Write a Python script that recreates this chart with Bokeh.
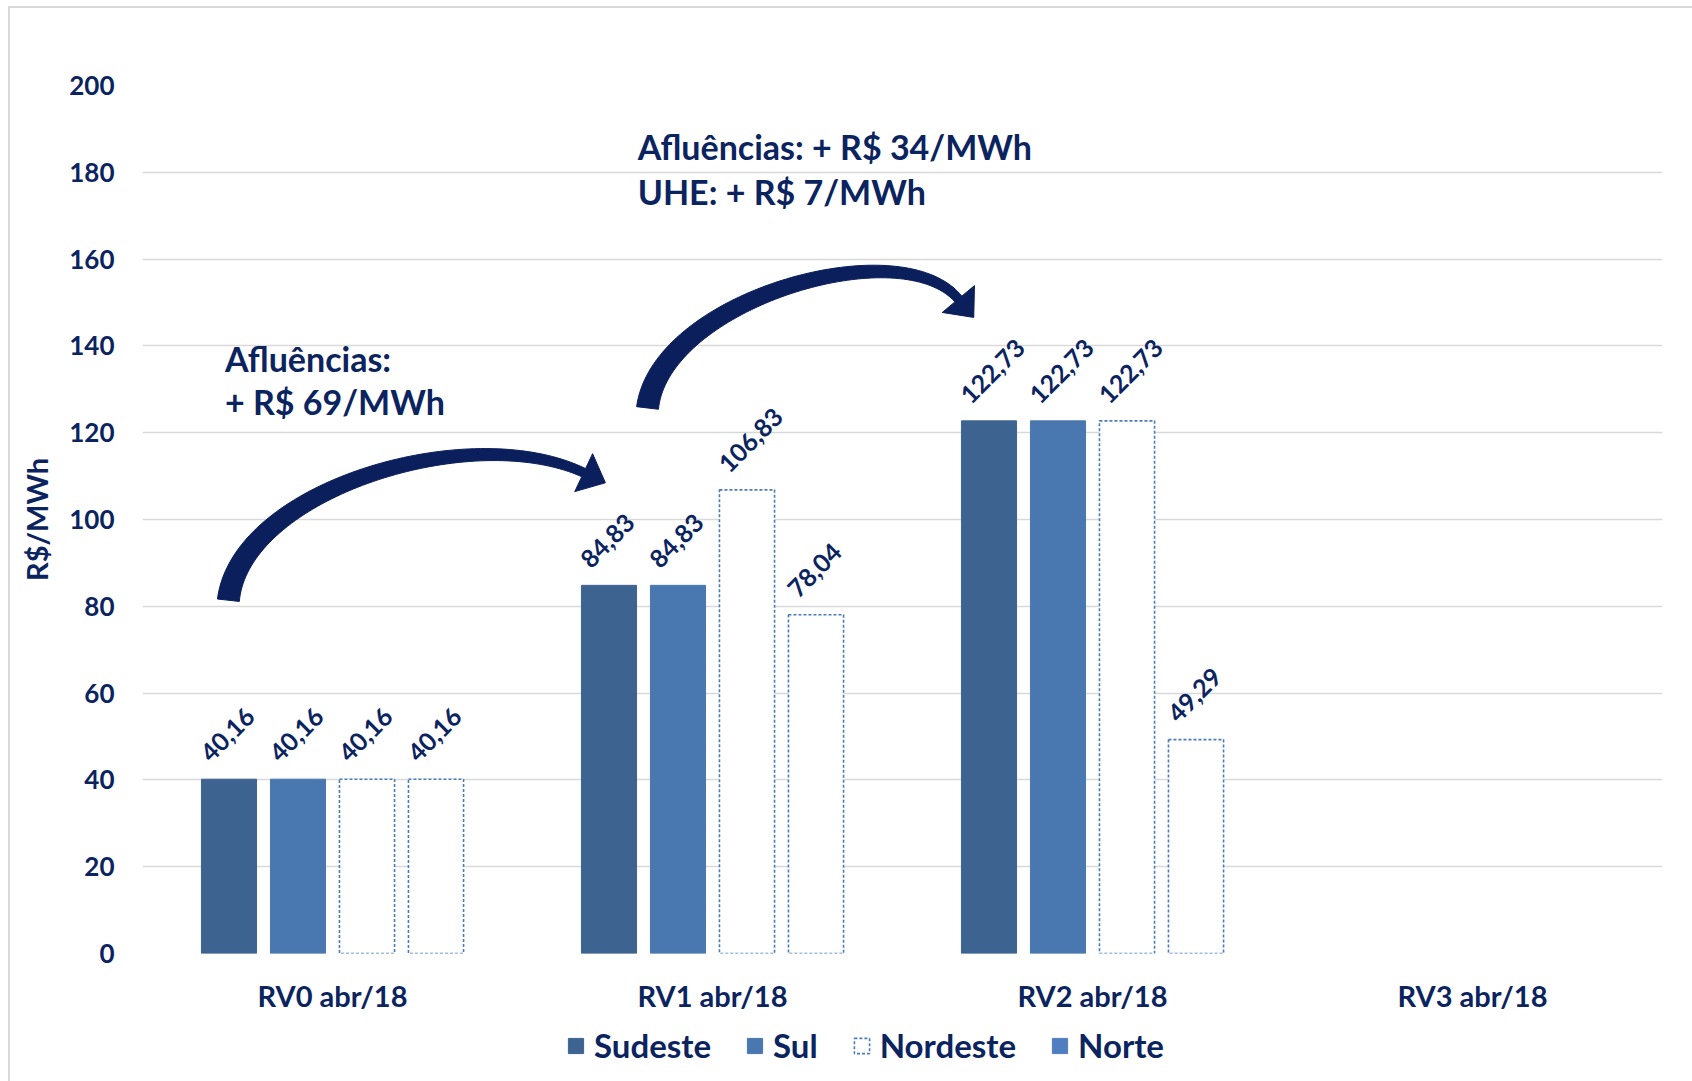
import numpy as np
from bokeh.plotting import figure
from bokeh.layouts import column
from bokeh.models import (ColumnDataSource, FactorRange, FixedTicker, Label, Legend,
                          LegendItem, Range1d)
from bokeh.transform import dodge
from bokeh.core.properties import value
from bokeh.embed import file_html
from bokeh.resources import INLINE

# ---- data -------------------------------------------------------------
categories = ["RV0 abr/18", "RV1 abr/18", "RV2 abr/18", "RV3 abr/18"]
sudeste = [40.16, 84.83, 122.73]
sul = [40.16, 84.83, 122.73]
nordeste = [40.16, 106.83, 122.73]
norte = [40.16, 78.04, 49.29]
series_names = ["Sudeste", "Sul", "Nordeste", "Norte"]
y_ticks = [0, 20, 40, 60, 80, 100, 120, 140, 160, 180, 200]

# ---- layout / style ---------------------------------------------------
W, H = 1692, 1081
X0, Y0 = 10, 8                      # chart-area border offset
LEFT, RIGHT, TOP = 132, 30, 77
FRAME_W, FRAME_H = 1520, 870
AXIS_H = 60                         # room for category labels
MAIN_W = W - X0
MAIN_H = TOP + FRAME_H + AXIS_H
LEG_H = H - Y0 - MAIN_H
Y_MAX = 200
NAVY = "#0B2460"
FONT = "Lato"
C_SUDESTE = "#3D6391"
C_SUL = "#4977B0"
C_DASH = "#4A7CB8"
C_NORTE = "#4F7FC0"
BAR_W = 0.145
OFFSETS = [-0.2724, -0.0908, 0.0908, 0.2724]


def fmt(v):
    return f"{v:.2f}".replace(".", ",")


p = figure(width=MAIN_W, height=MAIN_H,
           x_range=FactorRange(*categories), y_range=(0, Y_MAX),
           output_backend="svg", toolbar_location=None,
           min_border_left=LEFT, min_border_right=RIGHT,
           min_border_top=TOP, min_border_bottom=AXIS_H)
p.outline_line_color = None
p.background_fill_color = "white"
p.border_fill_color = "white"

# grid
p.xgrid.grid_line_color = None
p.ygrid.ticker = FixedTicker(ticks=y_ticks)
p.ygrid.grid_line_color = "#D9D9D9"
p.ygrid.grid_line_width = 1.5

# y axis
p.yaxis.ticker = FixedTicker(ticks=y_ticks)
p.yaxis.axis_line_color = None
p.yaxis.major_tick_line_color = None
p.yaxis.minor_tick_line_color = None
p.yaxis.major_label_standoff = 22
p.yaxis.major_label_text_font = FONT
p.yaxis.major_label_text_font_style = "bold"
p.yaxis.major_label_text_font_size = "26px"
p.yaxis.major_label_text_color = NAVY
p.yaxis.axis_label = "R$/MWh"
p.yaxis.axis_label_standoff = 12
p.yaxis.axis_label_text_font = FONT
p.yaxis.axis_label_text_font_style = "bold"
p.yaxis.axis_label_text_font_size = "29px"
p.yaxis.axis_label_text_color = NAVY

# x axis
p.xaxis.axis_line_color = None
p.xaxis.major_tick_line_color = None
p.xaxis.minor_tick_line_color = None
p.xaxis.major_label_standoff = 18
p.xaxis.major_label_text_font = FONT
p.xaxis.major_label_text_font_style = "bold"
p.xaxis.major_label_text_font_size = "29px"
p.xaxis.major_label_text_color = NAVY

# ---- bars + value labels ---------------------------------------------
styles = [
    dict(fill_color=C_SUDESTE, line_color=C_SUDESTE, line_width=1),
    dict(fill_color=C_SUL, line_color=C_SUL, line_width=1),
    dict(fill_color="white", line_color=C_DASH, line_width=1.6, line_dash="3 2"),
    dict(fill_color="white", line_color=C_DASH, line_width=1.6, line_dash="3 2"),
]
for vals, off, st in zip([sudeste, sul, nordeste, norte], OFFSETS, styles):
    src = ColumnDataSource(dict(cat=categories[:len(vals)], val=vals,
                                lab=[fmt(v) for v in vals]))
    xs = dodge("cat", off, range=p.x_range)
    p.vbar(x=xs, top="val", width=BAR_W, source=src, **st)
    p.text(x=xs, y="val", text="lab", source=src, angle=45, angle_units="deg",
           x_offset=-24, y_offset=-22, text_align="left", text_baseline="alphabetic",
           text_font=value(FONT), text_font_style="bold", text_font_size="25px",
           text_color=NAVY)

# ---- curved arrows ----------------------------------------------------
PX_X = FRAME_W / len(categories)
PX_Y = FRAME_H / Y_MAX


def to_px(x, y):
    return x * PX_X, (Y_MAX - y) * PX_Y


def to_data(px, py):
    return px / PX_X, Y_MAX - py / PX_Y


def curved_arrow(ctrl, tail_w=22, neck_w=9, head_half=21, head_len=24, n=80):
    P = np.array([to_px(*c) for c in ctrl])
    t = np.linspace(0, 1, n)[:, None]
    B = ((1 - t) ** 3 * P[0] + 3 * (1 - t) ** 2 * t * P[1]
         + 3 * (1 - t) * t ** 2 * P[2] + t ** 3 * P[3])
    D = (3 * (1 - t) ** 2 * (P[1] - P[0]) + 6 * (1 - t) * t * (P[2] - P[1])
         + 3 * t ** 2 * (P[3] - P[2]))
    D = D / np.linalg.norm(D, axis=1, keepdims=True)
    N = np.column_stack([-D[:, 1], D[:, 0]])
    w = (tail_w + (neck_w - tail_w) * t[:, 0]) / 2
    left = B + N * w[:, None]
    right = B - N * w[:, None]
    end, tan, nor = B[-1], D[-1], N[-1]
    wing_l = end + nor * head_half
    wing_r = end - nor * head_half
    tip = end + tan * head_len
    poly = np.vstack([left, wing_l, tip, wing_r, right[::-1]])
    xs, ys = to_data(poly[:, 0], poly[:, 1])
    return list(xs), list(ys)


arrow_1 = [(0.226, 81.4), (0.258, 106.9), (0.863, 123.0), (1.161, 110.8)]
arrow_2 = [(1.329, 125.7), (1.363, 150.6), (1.995, 166.7), (2.147, 150.8)]
ax, ay = [], []
for ctrl in (arrow_1, arrow_2):
    xs, ys = curved_arrow(ctrl)
    ax.append(xs)
    ay.append(ys)
p.patches(xs=ax, ys=ay, fill_color="#0A1F5C", line_color="#0A1F5C", line_width=1)

# ---- annotations ------------------------------------------------------
notes = [
    (0.217, 137.2, "Afluências:"),
    (0.217, 127.1, "+ R$ 69/MWh"),
    (1.303, 186.0, "Afluências: + R$ 34/MWh"),
    (1.303, 175.6, "UHE: + R$ 7/MWh"),
]
for x, y, txt in notes:
    p.add_layout(Label(x=x, y=y, text=txt, text_font=FONT, text_font_style="bold",
                       text_font_size="34px", text_color=NAVY,
                       text_baseline="alphabetic", text_align="left"))

# ---- legend strip -----------------------------------------------------
# swatch renderers sit outside the strip's visible range; only their legend
# glyphs are shown
lg = figure(width=MAIN_W, height=LEG_H, x_range=Range1d(0, 1), y_range=Range1d(0, 1),
            output_backend="svg", toolbar_location=None,
            min_border_left=0, min_border_right=0, min_border_top=0, min_border_bottom=0,
            x_axis_type=None, y_axis_type=None)
lg.outline_line_color = None
lg.grid.grid_line_color = None
swatch_styles = styles[:3] + [dict(fill_color=C_NORTE, line_color=C_NORTE, line_width=1)]
items = []
for name, st in zip(series_names, swatch_styles):
    r = lg.rect(x=[-5], y=[-5], width=0, height=0, **st)
    items.append(LegendItem(label=name, renderers=[r]))
legend = Legend(items=items, orientation="horizontal", location=(424, 16))
legend.label_text_font = FONT
legend.label_text_font_style = "bold"
legend.label_text_font_size = "33px"
legend.label_text_color = NAVY
legend.glyph_width = 19
legend.glyph_height = 19
legend.label_standoff = 9
legend.spacing = 34
legend.border_line_color = None
legend.background_fill_alpha = 0
legend.margin = 0
legend.padding = 8
lg.add_layout(legend)

layout = column(p, lg, spacing=0,
                styles={"margin-left": "8px", "margin-top": "6px",
                        "border-left": "2px solid #D9D9D9",
                        "border-top": "2px solid #D9D9D9"})

open("out.html", "w").write(file_html(layout, INLINE))
